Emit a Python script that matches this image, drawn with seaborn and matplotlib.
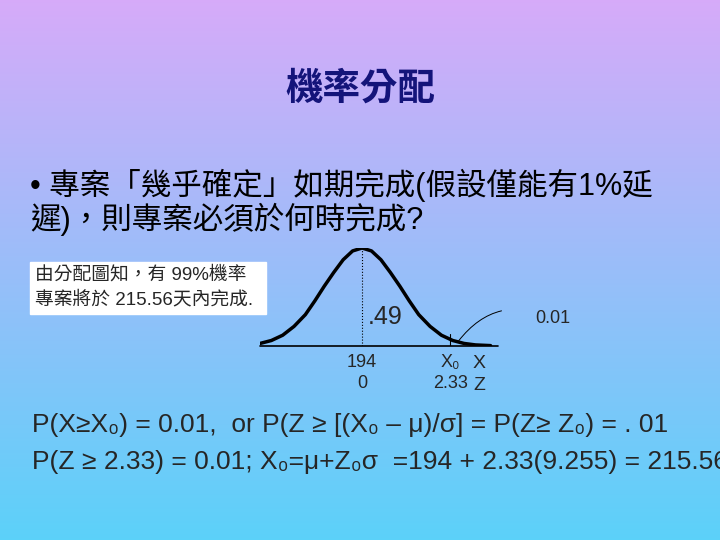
import numpy as np
import pandas as pd
import seaborn as sns
import matplotlib.pyplot as plt

sns.set_theme(style="white")
plt.rcParams["font.family"] = ["Liberation Sans", "Noto Sans CJK TC", "DejaVu Sans"]

# curve heights (z units, relative height)
z_vals = [-2.7, -2.4, -2.1, -1.8, -1.5, -1.25, -1.0, -0.75, -0.5, -0.25, 0.0,
          0.25, 0.5, 0.75, 1.0, 1.25, 1.5, 1.8, 2.1, 2.4, 2.7, 3.0, 3.4]
heights = [0.026, 0.056, 0.11, 0.2, 0.32, 0.46, 0.61, 0.75, 0.88, 0.97, 1.0,
           0.97, 0.88, 0.75, 0.61, 0.46, 0.32, 0.2, 0.11, 0.056, 0.026, 0.011, 0.004]
tick_z = [0.0, 2.33]
x_labels = ["194", "X₀"]
z_labels = ["0", "2.33"]

title = "機率分配"
body = ["• 專案「幾乎確定」如期完成(假設僅能有1%延", "遲)，則專案必須於何時完成?"]
box = ["由分配圖知，有 99%機率", "專案將於 215.56天內完成."]
formulas = ["P(X≥X₀) = 0.01,  or P(Z ≥ [(X₀ – μ)/σ] = P(Z≥ Z₀) = . 01",
            "P(Z ≥ 2.33) = 0.01; X₀=μ+Z₀σ  =194 + 2.33(9.255) = 215.56"]

fig = plt.figure(figsize=(7.2, 5.4), dpi=100)
bg = fig.add_axes([0, 0, 1, 1])
grad = np.linspace(0, 1, 256).reshape(-1, 1)
top = np.array([0.84, 0.67, 0.98])
bot = np.array([0.36, 0.82, 0.98])
img = top[None, None, :] * (1 - grad[..., None]) + bot[None, None, :] * grad[..., None]
bg.imshow(img, extent=[0, 720, 540, 0], aspect="auto")
bg.set_xlim(0, 720)
bg.set_ylim(540, 0)
bg.axis("off")

bg.text(360, 90, title, fontsize=27, fontweight="bold", color="#14147a",
        ha="center", va="center")
bg.text(30, 185, body[0], fontsize=22, ha="left", va="center", color="black")
bg.text(30, 219, body[1], fontsize=22, ha="left", va="center", color="black")
bg.add_patch(plt.Rectangle((30, 262), 236, 52, color="white"))
bg.text(35, 275, box[0], fontsize=13.5, va="center")
bg.text(35, 300, box[1], fontsize=13.5, va="center")
bg.text(32, 425, formulas[0], fontsize=19, va="center")
bg.text(32, 462, formulas[1], fontsize=19, va="center", clip_on=True)

# curve axes: z -2.7..3.65 over pixels 260..500, height 0..1 over 346..248
ax = fig.add_axes([260 / 720, 1 - 346 / 540, 240 / 720, 98 / 540])
ax.patch.set_alpha(0)
ax.set_xlim(-2.7, 3.65)
ax.set_ylim(0, 1)
ax.axis("off")
df = pd.DataFrame({"z": z_vals, "h": heights})
sns.lineplot(data=df, x="z", y="h", ax=ax, color="black", lw=2.5)
ax.plot([-2.7, 3.6], [0, 0], color="black", lw=1.2, clip_on=False)
ax.plot([0, 0], [0, 1], color="black", lw=0.8, ls=":")
ax.plot([tick_z[1]] * 2, [0, 0.12], color="black", lw=0.8)
ax.text(0.15, 0.3, ".49", fontsize=18, ha="left", va="center")
for zv, xl, zl in zip(tick_z, x_labels, z_labels):
    ax.text(zv, -0.17, xl, fontsize=13, ha="center", va="center", clip_on=False)
    ax.text(zv, -0.38, zl, fontsize=13, ha="center", va="center", clip_on=False)
ax.text(3.1, -0.18, "X", fontsize=14, ha="center", va="center")
ax.text(3.1, -0.4, "Z", fontsize=14, ha="center", va="center")
ax.annotate("0.01", xy=(2.55, 0.05), xytext=(5.05, 0.28), fontsize=13,
            ha="center", va="center", annotation_clip=False,
            arrowprops=dict(arrowstyle="-", lw=0.7, color="black",
                            connectionstyle="arc3,rad=0.4",
                            shrinkB=0, shrinkA=22))

fig.savefig("out.png", dpi=100)
